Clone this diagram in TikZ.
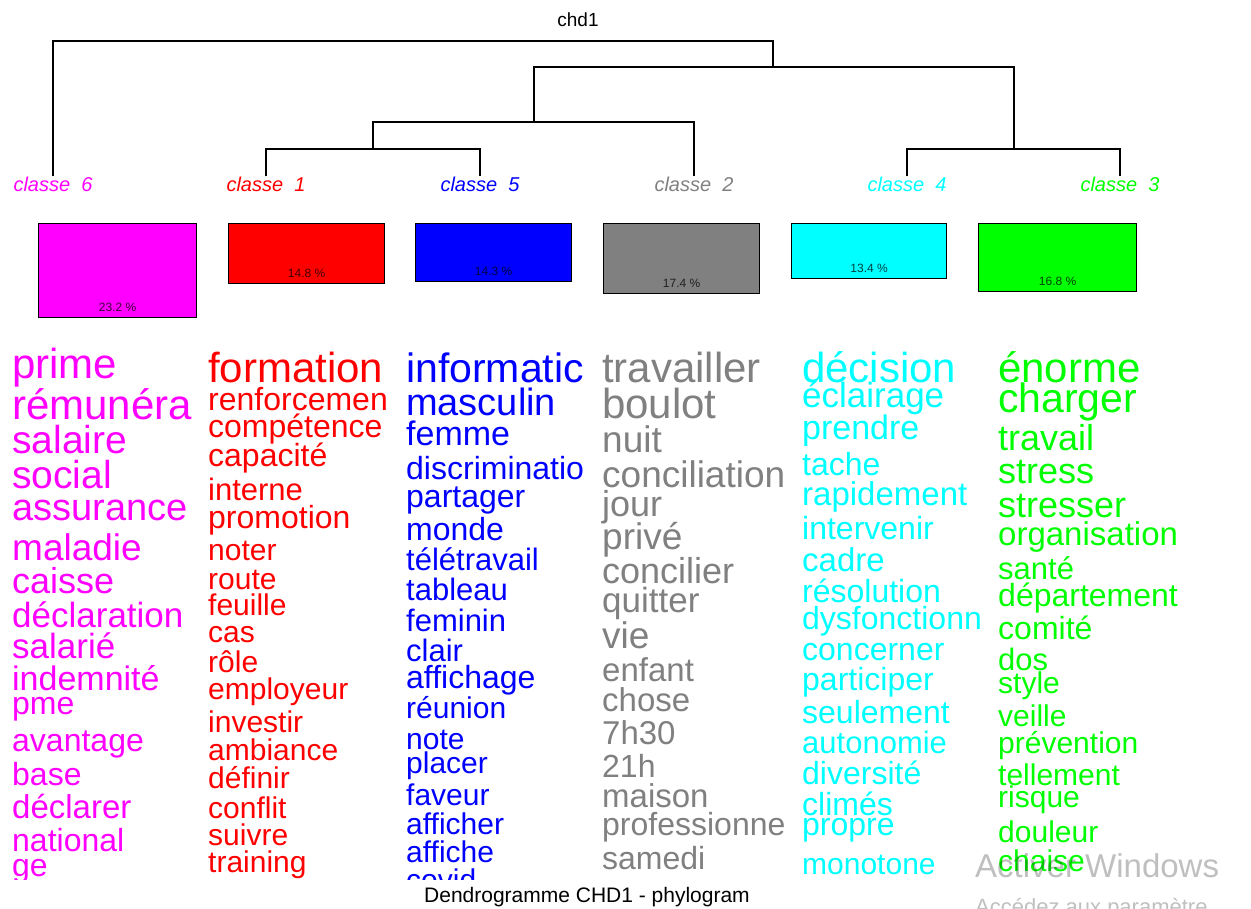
\documentclass[tikz,border=0pt]{standalone}
\usepackage{fontspec}
\setmainfont{Liberation Sans}
\definecolor{cl6}{RGB}{255,0,255}
\definecolor{cl1}{RGB}{255,0,0}
\definecolor{cl5}{RGB}{0,0,255}
\definecolor{cl2}{RGB}{128,128,128}
\definecolor{cl4}{RGB}{0,255,255}
\definecolor{cl3}{RGB}{0,255,0}
\begin{document}
\begin{tikzpicture}[x=1pt,y=-1pt,
  branch/.style={line width=1.3pt},
  leaf/.style={font=\fontsize{20}{20}\selectfont\itshape,anchor=base,inner sep=1pt},
  bar/.style={draw=black,line width=1.2pt,anchor=north west,minimum width=156pt},
  pct/.style={font=\fontsize{12}{12}\selectfont,text=black,text opacity=0.75,inner sep=0pt},
  word/.style={anchor=base west,inner sep=0pt}]
  \useasboundingbox (0,0) rectangle (1251,909);
  \node[font=\fontsize{19}{19}\selectfont] (title) at (578,20) {chd1};
  \node[leaf,text=cl6] (c6) at (53,192) {classe~~6};
  \node[leaf,text=cl1] (c1) at (266,192) {classe~~1};
  \node[leaf,text=cl5] (c5) at (480,192) {classe~~5};
  \node[leaf,text=cl2] (c2) at (694,192) {classe~~2};
  \node[leaf,text=cl4] (c4) at (907,192) {classe~~4};
  \node[leaf,text=cl3] (c3) at (1120,192) {classe~~3};
  \coordinate (m15) at (373,149);
  \coordinate (m152) at (534,122);
  \coordinate (m43) at (1014,149);
  \coordinate (m15243) at (773,67);
  \coordinate (root) at (413,41);
  \draw[branch] (c1.north) |- (m15) -| (c5.north);
  \draw[branch] (m15) |- (m152) -| (c2.north);
  \draw[branch] (c4.north) |- (m43) -| (c3.north);
  \draw[branch] (m152) |- (m15243) -| (m43);
  \draw[branch] (c6.north) |- (root) -| (m15243);
  \node[bar,fill=cl6,minimum width=158pt,minimum height=94pt] (b6) at (38,223) {};
  \node[bar,fill=cl1,minimum height=60pt] (b1) at (228,223) {};
  \node[bar,fill=cl5,minimum height=58pt] (b5) at (415,223) {};
  \node[bar,fill=cl2,minimum height=70pt] (b2) at (603,223) {};
  \node[bar,fill=cl4,minimum width=155pt,minimum height=55pt] (b4) at (791,223) {};
  \node[bar,fill=cl3,minimum width=158pt,minimum height=68pt] (b3) at (978,223) {};
  \node[pct] (p6) at ([yshift=11pt]b6.south) {23.2 \%};
  \node[pct] (p1) at ([yshift=11pt]b1.south) {14.8 \%};
  \node[pct] (p5) at ([yshift=11pt]b5.south) {14.3 \%};
  \node[pct] (p2) at ([yshift=11pt]b2.south) {17.4 \%};
  \node[pct] (p4) at ([yshift=11pt]b4.south) {13.4 \%};
  \node[pct] (p3) at ([yshift=11pt]b3.south) {16.8 \%};
  \begin{scope}
    \clip (0,340) rectangle (1251,879);
    \foreach \w/\y/\sz [count=\i] in {prime/378/42,rémunéra/420/42,salaire/453/39,social/488/39,
        assurance/520/38,maladie/560/37,caisse/593/36,déclaration/627/35,salarié/658/35,
        indemnité/690/34,pme/714/32,avantage/751/32,base/785/32,déclarer/818/33,
        national/851/32,ge/876/32}
      \node[word,text=cl6,font=\fontsize{\sz}{\sz}\selectfont] (w6-\i) at (12,\y) {\w};
    \foreach \w/\y/\sz [count=\i] in {formation/383/42,renforcemen/410/32,compétence/437/32,
        capacité/466/32,interne/500/31,promotion/528/32,noter/560/30,route/589/30,
        feuille/615/30,cas/642/30,rôle/672/30,employeur/699/30,investir/732/30,
        ambiance/760/30,définir/788/30,conflit/818/30,suivre/845/30,training/872/30}
      \node[word,text=cl1,font=\fontsize{\sz}{\sz}\selectfont] (w1-\i) at (208,\y) {\w};
    \foreach \w/\y/\sz [count=\i] in {informatic/383/41,masculin/416/38,femme/446/34,
        discriminatio/479/32,partager/507/32,monde/540/32,télétravail/570/31,tableau/600/31,
        feminin/631/31,clair/661/31,affichage/688/32,réunion/718/30,note/749/30,
        placer/773/30,faveur/805/30,afficher/834/30,affiche/862/30,covid/890/30}
      \node[word,text=cl5,font=\fontsize{\sz}{\sz}\selectfont] (w5-\i) at (406,\y) {\w};
    \foreach \w/\y/\sz [count=\i] in {travailler/383/42,boulot/418/42,nuit/452/37,
        conciliation/487/37,jour/516/36,privé/549/37,concilier/583/36,quitter/612/35,
        vie/648/37,enfant/681/33,chose/711/33,7h30/744/33,21h/777/32,maison/807/33,
        professionne/835/32,samedi/869/32}
      \node[word,text=cl2,font=\fontsize{\sz}{\sz}\selectfont] (w2-\i) at (602,\y) {\w};
    \foreach \w/\y/\sz [count=\i] in {décision/383/42,éclairage/407/35,prendre/439/34,
        tache/475/32,rapidement/505/33,intervenir/539/32,cadre/571/33,résolution/602/32,
        dysfonctionn/629/32,concerner/660/32,participer/690/32,seulement/723/32,
        autonomie/753/31,diversité/784/32,climés/815/32,propre/835/32,monotone/874/30}
      \node[word,text=cl4,font=\fontsize{\sz}{\sz}\selectfont] (w4-\i) at (802,\y) {\w};
    \foreach \w/\y/\sz [count=\i] in {énorme/383/42,charger/413/41,travail/450/36,
        stress/483/36,stresser/517/36,organisation/545/33,santé/579/31,département/606/32,
        comité/639/32,dos/670/31,style/693/30,veille/726/30,prévention/753/30,
        tellement/785/30,risque/807/30,douleur/842/30,chaise/871/30}
      \node[word,text=cl3,font=\fontsize{\sz}{\sz}\selectfont] (w3-\i) at (998,\y) {\w};
  \end{scope}
  \node[font=\fontsize{21}{21}\selectfont,anchor=base] (caption) at (587,902) {Dendrogramme CHD1 - phylogram};
  \node[word,text=black,text opacity=0.25,font=\fontsize{33}{33}\selectfont] (wm1) at (975,877) {Activer Windows};
  \node[word,text=black,text opacity=0.25,font=\fontsize{22}{22}\selectfont] (wm2) at (975,914) {Accédez aux paramètre};
\end{tikzpicture}
\end{document}
